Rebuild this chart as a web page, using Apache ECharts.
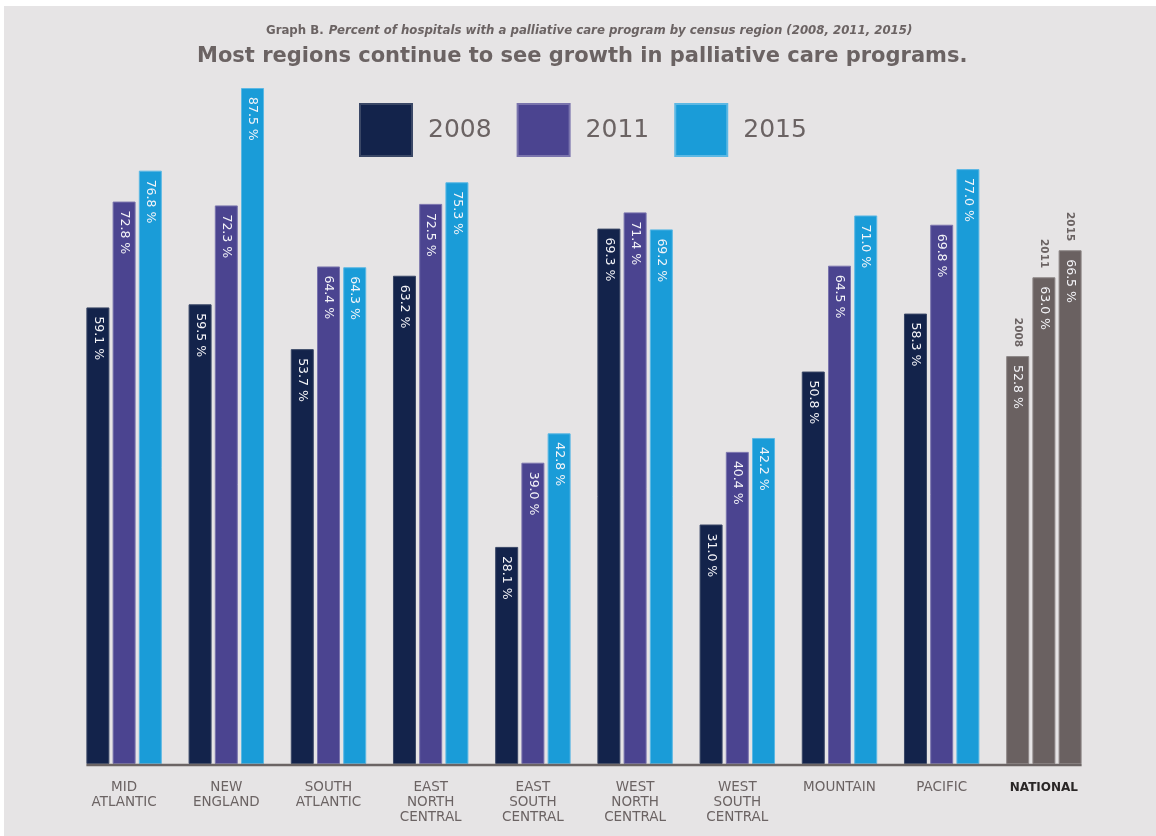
<!DOCTYPE html>
<html>
<head>
<meta charset="utf-8">
<script src="https://cdn.jsdelivr.net/npm/echarts@6/dist/echarts.min.js"></script>
<style>
  html, body { margin: 0; padding: 0; background: #ffffff; overflow: hidden; width: 1156px; height: 836px; }
  #chart { position: absolute; left: 4px; top: 6px; width: 1156px; height: 836px; background: #e6e4e5; }
</style>
</head>
<body>
<div id="chart"></div>
<script>
// Census regions (plus the national figure) and the share of hospitals with a palliative care program
const regions = ['MID\nATLANTIC', 'NEW\nENGLAND', 'SOUTH\nATLANTIC', 'EAST\nNORTH\nCENTRAL', 'EAST\nSOUTH\nCENTRAL',
                 'WEST\nNORTH\nCENTRAL', 'WEST\nSOUTH\nCENTRAL', 'MOUNTAIN', 'PACIFIC', 'NATIONAL'];
const years = ['2008', '2011', '2015'];
const values2008 = [59.1, 59.5, 53.7, 63.2, 28.1, 69.3, 31.0, 50.8, 58.3, 52.8];
const values2011 = [72.8, 72.3, 64.4, 72.5, 39.0, 71.4, 40.4, 64.5, 69.8, 63.0];
const values2015 = [76.8, 87.5, 64.3, 75.3, 42.8, 69.2, 42.2, 71.0, 77.0, 66.5];

const yearColors = ['#13234b', '#4b4490', '#1a9cd8'];
const yearBorders = ['#3a4766', '#7a74ad', '#5cb8e4'];
const nationalColor = '#6a6161';
const nationalBorder = '#8e8787';
const textGray = '#6b6363';
const fontFamily = '"DejaVu Sans", Verdana, sans-serif';

const BAR_W = 23;
const BAR_GAP = 0.14;

const chart = echarts.init(document.getElementById('chart'), null, { renderer: 'canvas' });

const seriesValues = [values2008, values2011, values2015];
const nationalIndex = regions.indexOf('NATIONAL');

const series = years.map((yr, si) => ({
  name: yr,
  type: 'bar',
  barWidth: BAR_W,
  barGap: (BAR_GAP * 100) + '%',
  itemStyle: { color: yearColors[si], borderColor: yearBorders[si], borderWidth: 1 },
  label: {
    show: true,
    position: 'insideTop',
    distance: 9,
    rotate: -90,
    align: 'left',
    verticalAlign: 'middle',
    color: '#f4f4f8',
    fontFamily: fontFamily,
    fontSize: 12.5,
    formatter: p => p.value.toFixed(1) + ' %'
  },
  data: seriesValues[si].map((v, i) => i === nationalIndex
    ? { value: v, itemStyle: { color: nationalColor, borderColor: nationalBorder } }
    : v),
  markPoint: {
    symbol: 'rect',
    symbolSize: 0,
    silent: true,
    label: {
      show: true,
      position: 'top',
      distance: 9,
      rotate: -90,
      align: 'right',
      verticalAlign: 'middle',
      color: textGray,
      fontFamily: fontFamily,
      fontWeight: 'bold',
      fontSize: 10.5,
      formatter: () => yr
    },
    data: [{ coord: [nationalIndex, seriesValues[si][nationalIndex]] }]
  }
}));

chart.setOption({
  backgroundColor: '#e6e4e5',
  animation: false,
  title: [
    {
      text: '{b|Graph B.} {i|Percent of hospitals with a palliative care program by census region (2008, 2011, 2015)}',
      left: 257,
      top: 11,
      textStyle: {
        rich: {
          b: { fontFamily: fontFamily, fontWeight: 'bold', fontSize: 11.75, color: textGray },
          i: { fontFamily: fontFamily, fontStyle: 'italic', fontSize: 11.75, color: textGray }
        }
      }
    },
    {
      text: 'Most regions continue to see growth in palliative care programs.',
      left: 188,
      top: 35,
      textStyle: { fontFamily: fontFamily, fontWeight: 'bold', fontSize: 21, color: textGray }
    }
  ],
  legend: {
    left: 355,
    top: 97,
    padding: 0,
    itemWidth: 52,
    itemHeight: 52,
    itemGap: 25,
    icon: 'rect',
    selectedMode: false,
    textStyle: {
      fontFamily: fontFamily,
      fontSize: 25,
      color: textGray,
      width: 66,
      padding: [0, 0, 0, 11]
    },
    data: years
  },
  grid: { left: 69, width: 1022, top: 82, bottom: 78 },
  xAxis: {
    type: 'category',
    data: regions,
    axisLine: { show: false },
    axisTick: { show: false },
    axisLabel: {
      interval: 0,
      margin: 16,
      color: textGray,
      fontFamily: fontFamily,
      fontSize: 13.5,
      lineHeight: 15,
      verticalAlign: 'top',
      formatter: v => v === 'NATIONAL' ? '{n|' + v + '}' : v,
      rich: {
        n: { fontFamily: fontFamily, fontWeight: 'bold', fontSize: 12, color: '#2a2626' }
      }
    }
  },
  yAxis: {
    type: 'value',
    min: 0,
    max: 87.5,
    show: false,
    splitLine: { show: false }
  },
  series: series
});

// Baseline running from the first bar's left edge to the last bar's right edge
const groupW = BAR_W * years.length + BAR_W * BAR_GAP * (years.length - 1);
const xFirst = chart.convertToPixel({ xAxisIndex: 0 }, 0) - groupW / 2;
const xLast = chart.convertToPixel({ xAxisIndex: 0 }, regions.length - 1) + groupW / 2;
const yBase = chart.convertToPixel({ yAxisIndex: 0 }, 0);
chart.setOption({
  graphic: [{
    type: 'line',
    shape: { x1: xFirst, y1: yBase + 1, x2: xLast, y2: yBase + 1 },
    style: { stroke: '#6b6464', lineWidth: 2.5 },
    z: 10
  }]
});
</script>
</body>
</html>
